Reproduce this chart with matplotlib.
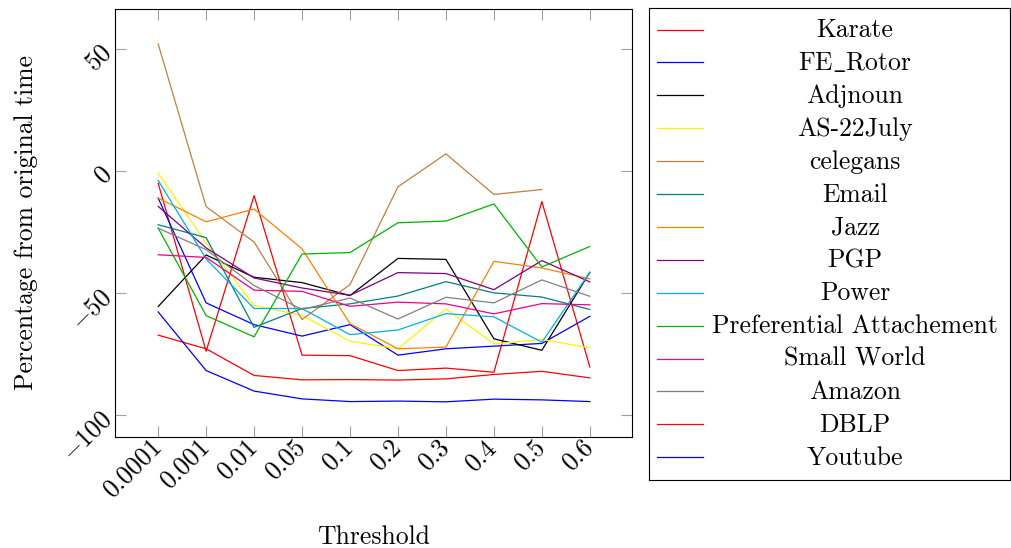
import numpy as np
import matplotlib
matplotlib.use("Agg")
import matplotlib.pyplot as plt

plt.rcParams['font.family'] = ['cmr10', 'DejaVu Serif']
plt.rcParams['mathtext.fontset'] = 'cm'
plt.rcParams['axes.formatter.use_mathtext'] = True

thresholds = ['0.0001', '0.001', '0.01', '0.05', '0.1', '0.2', '0.3', '0.4', '0.5', '0.6']

karate = [-5, -73.8, -10.1, -75.4, -75.6, -81.7, -80.7, -82.4, -12.5, -80.2]
fe_rotor = [-11.1, -54, -62.9, -67.6, -62.9, -75.4, -72.8, -71.7, -70.6, -59.5]
adjnoun = [-55.5, -34.4, -43.5, -45.7, -51, -35.8, -36.2, -68.7, -73.4, -41.5]
as_22july = [-0.9, -29.5, -55.1, -59.1, -69.7, -72.8, -56.5, -70.8, -69, -72.4]
celegans = [52, -14.6, -29.1, -60.8, -46.5, -6.5, 7, -9.6, -7.6, np.nan]
email = [-22, -27.3, -64, -56.3, -54.4, -51.2, -45.3, -49.9, -51.6, -56.7]
jazz = [-11.1, -20.8, -15.6, -31.9, -62.5, -72.8, -72.1, -37, -39.7, -44.2]
pgp = [-14.5, -31.5, -43.8, -47.9, -50.9, -41.6, -42, -48.6, -36.7, -45.4]
power = [-3.9, -36, -56.3, -56.3, -67, -65.1, -58.4, -59.7, -70.1, -41.5]
pref_attach = [-23.4, -59.2, -67.9, -34, -33.4, -21.2, -20.5, -13.5, -39.3, -30.9]
small_world = [-34.3, -35.4, -48.8, -49.3, -55.4, -53.7, -54.4, -58.5, -54.3, -54.8]
amazon = [-23.4, -32.2, -46.9, -56.7, -52, -60.6, -51.7, -54, -44.6, -51.3]
dblp = [-67.2, -72.8, -83.7, -85.5, -85.4, -85.6, -85.1, -83.3, -82, -84.7]
youtube = [-57.7, -81.7, -90.1, -93.3, -94.4, -94.2, -94.5, -93.4, -93.7, -94.4]

names = ['Karate', r'FE$\_$Rotor', 'Adjnoun', 'AS-22July', 'celegans', 'Email', 'Jazz',
         'PGP', 'Power', 'Preferential Attachement', 'Small World', 'Amazon', 'DBLP', 'Youtube']
series = [karate, fe_rotor, adjnoun, as_22july, celegans, email, jazz,
          pgp, power, pref_attach, small_world, amazon, dblp, youtube]
# pgfplots "color" cycle list (cmyk ones as a pdf viewer shows them)
colors = ['#FF0000', '#0000FF', '#000000', '#FFF200', '#BF8040', '#008080', '#FF8000',
          '#800080', '#00AEEF', '#00B300', '#EC008C', '#808080', '#FF0000', '#0000FF']

W, H = 1011, 548
fig = plt.figure(figsize=(W / 100, H / 100), dpi=100)
ax = fig.add_axes([115 / W, 1 - 437 / H, (632 - 115) / W, (437 - 9) / H])

x = np.arange(len(thresholds))
for vals, c in zip(series, colors):
    ax.plot(x, vals, color=c, lw=0.9)

ax.set_xlim(-0.9, 9.88)
ax.set_ylim(-108.9, 66.3)
ax.set_xticks(x)
ax.set_xticklabels(['$%s$' % t for t in thresholds], rotation=45, ha='right',
                   va='center', rotation_mode='anchor')
ax.set_yticks([-100, -50, 0, 50])
ax.set_yticklabels(['$-100$', '$-50$', '$0$', '$50$'], rotation=45, ha='right',
                   va='center', rotation_mode='anchor')
ax.tick_params(direction='in', length=8, width=0.8, color='#a0a0a0',
               top=True, right=True, labelsize=18.5, pad=5)
for s in ax.spines.values():
    s.set_linewidth(0.8)
ax.set_xlabel('Threshold', fontsize=18.5, labelpad=16)
ax.set_ylabel('Percentage from original time', fontsize=18.5, labelpad=14)

# legend box, laid out in pixel units
lax = fig.add_axes([649 / W, 1 - 480 / H, (1010 - 649) / W, (480 - 8) / H])
lax.set_xlim(649, 1010)
lax.set_ylim(480, 8)
lax.set_xticks([])
lax.set_yticks([])
for s in lax.spines.values():
    s.set_linewidth(0.8)
for i, (n, c) in enumerate(zip(names, colors)):
    yy = 29.5 + 32.9 * i
    lax.plot([657, 703], [yy, yy], color=c, lw=0.9)
    lax.text(855, yy + 7.5, n, ha='center', va='baseline', fontsize=18.5)

fig.savefig('out.png', dpi=100)
